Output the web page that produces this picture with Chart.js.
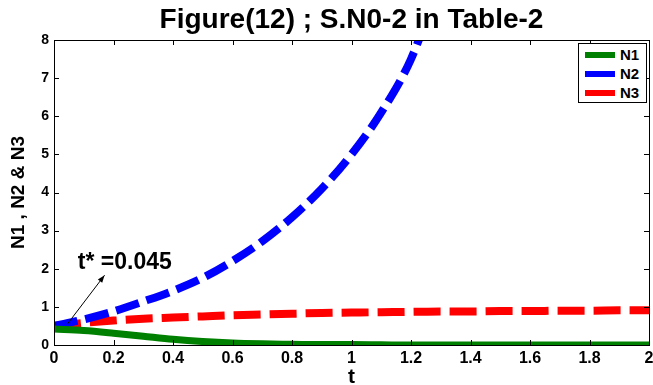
<!DOCTYPE html>
<html>
<head>
<meta charset="utf-8">
<script src="https://cdn.jsdelivr.net/npm/chart.js@4.4.1/dist/chart.umd.min.js"></script>
<style>
  html, body { margin: 0; padding: 0; background: #fff; }
  #wrap { position: relative; width: 653px; height: 385px; }
  #legend {
    position: absolute; left: 578px; top: 43px; width: 67px; height: 58px;
    border: 1px solid #000; background: #fff;
    font: bold 15px "Liberation Sans", Arial, sans-serif; color: #000;
  }
  #legend .row { position: absolute; left: 6px; height: 18px; line-height: 18px; }
  #legend .sw { position: absolute; left: 0; top: 6px; width: 30px; height: 6px; }
  #legend .lb { position: absolute; left: 35px; top: 0; }
</style>
</head>
<body>
<div id="wrap">
  <canvas id="chart"></canvas>
  <div id="legend"></div>
</div>
<script>
// time grid and the three series
const T = [0, 0.1, 0.2, 0.3, 0.4, 0.5, 0.6, 0.7, 0.8, 0.9, 1.0,
           1.1, 1.2, 1.3, 1.4, 1.5, 1.6, 1.7, 1.8, 1.9, 2.0];
const N1 = [0.42, 0.38, 0.31, 0.23, 0.15, 0.09, 0.05, 0.03, 0.02, 0.01, 0.01,
            0.005, 0, 0, 0, 0, 0, 0, 0, 0, 0];
const N2 = [0.5, 0.67, 0.88, 1.14, 1.42, 1.76, 2.2, 2.72, 3.35, 4.1, 5.0,
            6.1, 7.5, 9.6];
const N3 = [0.5, 0.58, 0.64, 0.69, 0.72, 0.75, 0.78, 0.80, 0.82, 0.84, 0.85,
            0.86, 0.87, 0.88, 0.88, 0.89, 0.89, 0.90, 0.90, 0.91, 0.91];
const LABELS = ['N1', 'N2', 'N3'];
const X_TICKS = [0, 0.2, 0.4, 0.6, 0.8, 1, 1.2, 1.4, 1.6, 1.8, 2];
const Y_TICKS = [0, 1, 2, 3, 4, 5, 6, 7, 8];

// annotation (data coordinates)
const T_STAR = 0.045;
const ARROW_FROM = [0.045, 0.55];
const ARROW_TO = [0.17, 1.83];
const NOTE_AT = [0.08, 2.0];

const FONT = '"Liberation Sans", Arial, sans-serif';

function pairs(vals) {
  return vals.map((v, i) => ({ x: T[i], y: v }));
}

// box around the plot, inward ticks, and the t* note
const framePlugin = {
  id: 'frame',
  afterDatasetsDraw(chart) {
    const { ctx, chartArea: a, scales: { x, y } } = chart;
    ctx.save();
    ctx.strokeStyle = '#000';
    ctx.lineWidth = 1;
    ctx.strokeRect(Math.round(a.left) + 0.5, Math.round(a.top) + 0.5,
                   Math.round(a.right - a.left), Math.round(a.bottom - a.top));
    ctx.beginPath();
    X_TICKS.forEach(v => {
      const px = Math.round(x.getPixelForValue(v)) + 0.5;
      ctx.moveTo(px, a.bottom); ctx.lineTo(px, a.bottom - 5);
      ctx.moveTo(px, a.top); ctx.lineTo(px, a.top + 5);
    });
    Y_TICKS.forEach(v => {
      const py = Math.round(y.getPixelForValue(v)) + 0.5;
      ctx.moveTo(a.left, py); ctx.lineTo(a.left + 5, py);
      ctx.moveTo(a.right, py); ctx.lineTo(a.right - 5, py);
    });
    ctx.stroke();

    // arrow
    const x0 = x.getPixelForValue(ARROW_FROM[0]), y0 = y.getPixelForValue(ARROW_FROM[1]);
    const x1 = x.getPixelForValue(ARROW_TO[0]), y1 = y.getPixelForValue(ARROW_TO[1]);
    const ang = Math.atan2(y1 - y0, x1 - x0);
    ctx.beginPath();
    ctx.moveTo(x0, y0); ctx.lineTo(x1, y1);
    ctx.stroke();
    ctx.beginPath();
    ctx.moveTo(x1, y1);
    ctx.lineTo(x1 - 8 * Math.cos(ang - 0.35), y1 - 8 * Math.sin(ang - 0.35));
    ctx.lineTo(x1 - 8 * Math.cos(ang + 0.35), y1 - 8 * Math.sin(ang + 0.35));
    ctx.closePath();
    ctx.fillStyle = '#000';
    ctx.fill();

    ctx.font = 'bold 23px ' + FONT;
    ctx.textBaseline = 'alphabetic';
    ctx.textAlign = 'left';
    ctx.fillText('t* =' + T_STAR, x.getPixelForValue(NOTE_AT[0]), y.getPixelForValue(NOTE_AT[1]));
    ctx.restore();
  }
};

const chart = new Chart(document.getElementById('chart'), {
  type: 'line',
  data: {
    datasets: [
      { label: LABELS[0], data: pairs(N1), borderColor: 'rgb(0,128,0)', borderWidth: 7,
        pointRadius: 0, tension: 0.4, cubicInterpolationMode: 'monotone', clip: 0 },
      { label: LABELS[1], data: pairs(N2), borderColor: 'rgb(0,0,255)', borderWidth: 8,
        borderDash: [24, 8], pointRadius: 0, tension: 0.4, cubicInterpolationMode: 'monotone', clip: 0 },
      { label: LABELS[2], data: pairs(N3), borderColor: 'rgb(255,0,0)', borderWidth: 8,
        borderDash: [27, 9], pointRadius: 0, tension: 0.4, cubicInterpolationMode: 'monotone', clip: 0 }
    ]
  },
  options: {
    responsive: true,
    maintainAspectRatio: false,
    animation: false,
    layout: { padding: { left: 0, right: 4, top: 0, bottom: 0 } },
    plugins: {
      legend: { display: false },
      tooltip: { enabled: false },
      title: {
        display: true,
        text: 'Figure(12) ; S.N0-2 in Table-2',
        fullSize: false,
        color: '#000',
        font: { family: FONT, size: 28, weight: 'bold', lineHeight: '30px' },
        padding: { top: 5, bottom: 5 }
      }
    },
    scales: {
      x: {
        type: 'linear', min: 0, max: 2,
        afterBuildTicks: s => { s.ticks = X_TICKS.map(v => ({ value: v })); },
        afterFit: s => { s.height = 40; s.paddingLeft = 0; s.paddingRight = 0; },
        grid: { display: false, drawTicks: false },
        border: { display: false },
        ticks: { color: '#000', padding: 4, maxRotation: 0, autoSkip: false,
                 callback: v => String(v),
                 font: { family: FONT, size: 16, weight: 'bold' } },
        title: { display: true, text: 't', color: '#000',
                 font: { family: FONT, size: 21, weight: 'bold', lineHeight: '16px' },
                 padding: { top: 0, bottom: 0 } }
      },
      y: {
        type: 'linear', min: 0, max: 8,
        afterBuildTicks: s => { s.ticks = Y_TICKS.map(v => ({ value: v })); },
        afterFit: s => { s.width = 54; s.paddingTop = 0; s.paddingBottom = 0; },
        grid: { display: false, drawTicks: false },
        border: { display: false },
        ticks: { color: '#000', padding: 5, autoSkip: false,
                 callback: v => String(v),
                 font: { family: FONT, size: 14, weight: 'bold' } },
        title: { display: true, text: 'N1 , N2 & N3', color: '#000',
                 font: { family: FONT, size: 19, weight: 'bold' },
                 padding: { top: 7, bottom: 0 } }
      }
    }
  },
  plugins: [framePlugin]
});

// legend as html, built from the datasets
const legend = document.getElementById('legend');
chart.data.datasets.forEach((ds, i) => {
  const row = document.createElement('div');
  row.className = 'row';
  row.style.top = (2 + i * 19) + 'px';
  const sw = document.createElement('span');
  sw.className = 'sw';
  sw.style.background = ds.borderColor;
  const lb = document.createElement('span');
  lb.className = 'lb';
  lb.textContent = ds.label;
  row.appendChild(sw);
  row.appendChild(lb);
  legend.appendChild(row);
});
</script>
</body>
</html>
